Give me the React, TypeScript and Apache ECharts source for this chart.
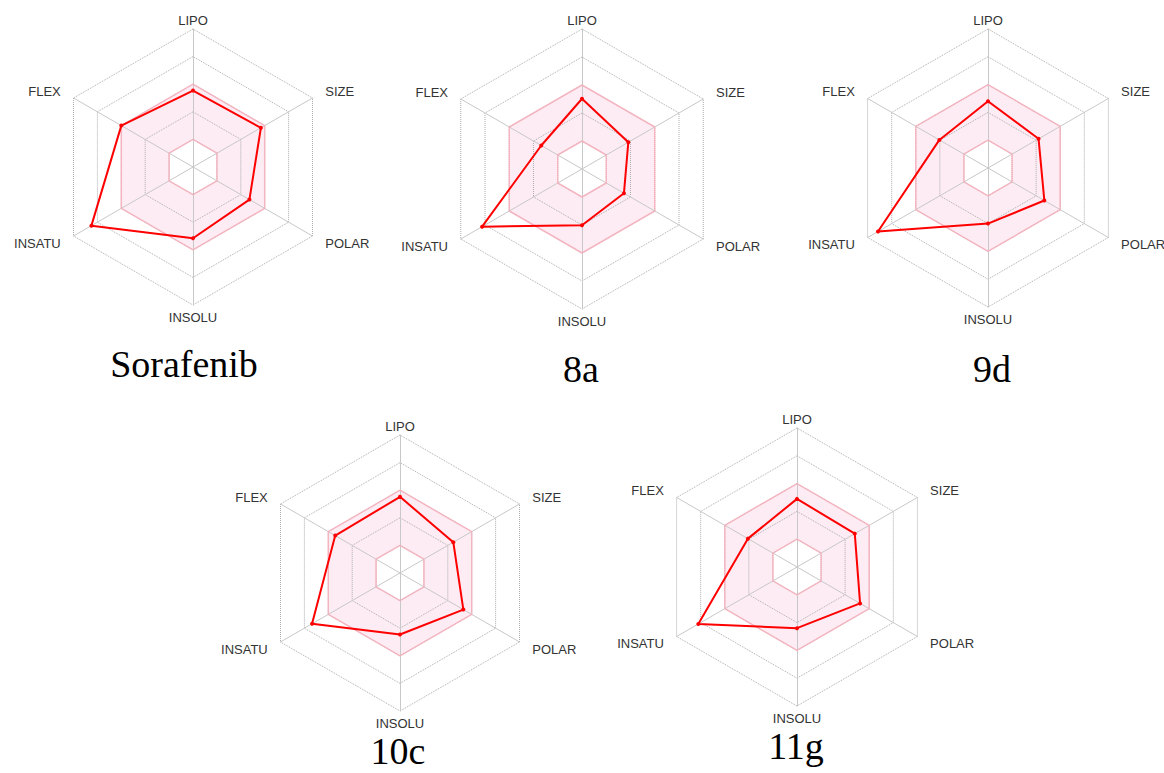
import React, { useEffect, useRef } from 'react';
import * as echarts from 'echarts';

// Indicators in the order ECharts places them (counter-clockwise from the top)
const INDICATORS = ['LIPO', 'FLEX', 'INSATU', 'INSOLU', 'POLAR', 'SIZE'];
const COMPOUNDS = ['Sorafenib', '8a', '9d', '10c', '11g'];
const AXIS_MAX = 5;
const AXIS_SPLITS = 5;

// values on a 0..5 normalised scale, same order as INDICATORS
const SORAFENIB = [2.77, 3.0, 4.25, 2.58, 2.36, 2.84];
const C_8A = [2.51, 1.68, 4.12, 2.01, 1.73, 1.91];
const C_9D = [2.4, 2.02, 4.57, 2.0, 2.34, 2.1];
const C_10C = [2.76, 2.71, 3.68, 2.23, 2.65, 2.23];
const C_11G = [2.45, 2.04, 4.1, 2.2, 2.62, 2.4];
const SERIES_VALUES = [SORAFENIB, C_8A, C_9D, C_10C, C_11G];

// optimal physicochemical range (pink band)
const OPTIMAL_LOW = [1, 1, 1, 1, 1, 1];
const OPTIMAL_HIGH = [3, 3, 3, 3, 3, 3];

// layout only
const PANELS = [
  { cx: 193, cy: 167, r: 138, tx: 184, ty: 349 },
  { cx: 582, cy: 169, r: 140, tx: 581, ty: 354 },
  { cx: 988, cy: 168, r: 139, tx: 992, ty: 354 },
  { cx: 400, cy: 573, r: 138, tx: 398, ty: 736 },
  { cx: 797, cy: 567, r: 139, tx: 796, ty: 731 },
];

const LABEL_KEY: Record<string, string> = {
  LIPO: 'top',
  SIZE: 'ur',
  POLAR: 'lr',
  INSOLU: 'bot',
  INSATU: 'll',
  FLEX: 'ul',
};

const SANS = '"Liberation Sans", Arial, sans-serif';
const SERIF = '"Liberation Serif", "Times New Roman", serif';
const LABEL_COLOR = '#333333';
const PINK_FILL = 'rgba(252, 218, 231, 0.5)';
const PINK_LINE = 'rgba(247, 172, 186, 0.8)';
const RED = '#ff0000';

export default function App() {
  const ref = useRef<HTMLDivElement>(null);

  useEffect(() => {
    if (!ref.current) return;
    const chart = echarts.init(ref.current, undefined, { renderer: 'svg' });

    const base = { fontFamily: SANS, fontSize: 13, color: LABEL_COLOR };
    const radar = PANELS.map((p) => ({
      center: [p.cx, p.cy],
      radius: p.r,
      startAngle: 90,
      shape: 'polygon',
      splitNumber: AXIS_SPLITS,
      indicator: INDICATORS.map((name) => ({ name, min: 0, max: AXIS_MAX })),
      nameGap: 2,
      axisName: {
        ...base,
        formatter: (name: string) => `{${LABEL_KEY[name]}|${name}}`,
        rich: {
          top: { ...base },
          bot: { ...base, padding: [4, 0, 0, 0] },
          ur: { ...base, padding: [0, 0, 12, 11] },
          lr: { ...base, padding: [12, 0, 0, 11] },
          ll: { ...base, padding: [12, 11, 0, 0] },
          ul: { ...base, padding: [0, 11, 12, 0] },
        },
      },
      axisLine: { show: true, lineStyle: { color: '#c8c8c8', width: 1 } },
      axisTick: { show: false },
      axisLabel: { show: false },
      splitLine: {
        show: true,
        lineStyle: { color: '#acacac', width: 1, type: 'dotted' },
      },
      splitArea: {
        show: true,
        areaStyle: {
          color: ['rgba(0,0,0,0)', PINK_FILL, PINK_FILL, 'rgba(0,0,0,0)', 'rgba(0,0,0,0)'],
        },
      },
    }));

    const series: any[] = [];
    PANELS.forEach((_, i) => {
      series.push({
        type: 'radar',
        radarIndex: i,
        silent: true,
        symbol: 'none',
        z: 2,
        lineStyle: { color: PINK_LINE, width: 1.5 },
        data: [{ value: OPTIMAL_LOW, name: 'low' }, { value: OPTIMAL_HIGH, name: 'high' }],
      });
      series.push({
        type: 'radar',
        radarIndex: i,
        silent: true,
        symbol: 'circle',
        symbolSize: 4,
        z: 3,
        itemStyle: { color: RED },
        lineStyle: { color: RED, width: 2 },
        data: [{ value: SERIES_VALUES[i], name: COMPOUNDS[i] }],
      });
    });

    const title = PANELS.map((p, i) => ({
      text: COMPOUNDS[i],
      left: p.tx,
      top: p.ty,
      textAlign: 'center',
      padding: 0,
      textStyle: {
        fontFamily: SERIF,
        fontSize: 38,
        lineHeight: 30,
        fontWeight: 'normal',
        color: '#000',
      },
    }));

    chart.setOption({
      animation: false,
      backgroundColor: '#ffffff',
      title,
      radar,
      series,
    });

    return () => chart.dispose();
  }, []);

  return (
    <div
      ref={ref}
      style={{ position: 'fixed', left: 0, top: 0, width: 1164, height: 773 }}
    />
  );
}
